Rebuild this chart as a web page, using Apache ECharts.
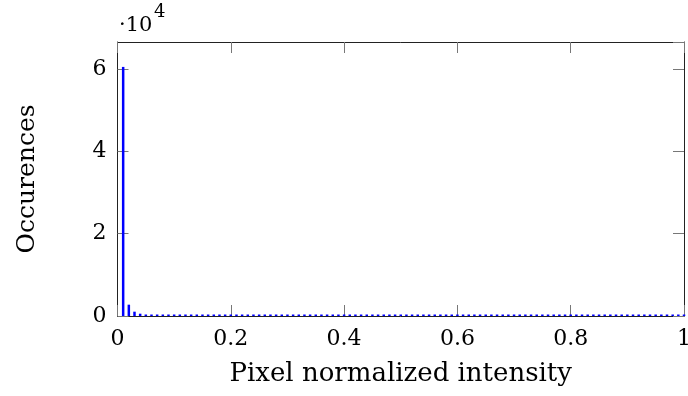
<!DOCTYPE html>
<html>
<head>
<meta charset="utf-8">
<script src="https://cdn.jsdelivr.net/npm/echarts@6/dist/echarts.min.js"></script>
<style>
  html, body { margin: 0; padding: 0; background: #fff; }
  #chart { width: 688px; height: 396px; }
</style>
</head>
<body>
<div id="chart"></div>
<script>
  // histogram bin positions (normalized intensity) and counts
  var binX = [];
  for (var i = 1; i <= 100; i++) binX.push(+(i * 0.01).toFixed(2));
  var counts = [
    60500, 2750, 1050, 560, 320, 230, 190, 160, 140, 125,
    115, 105, 98, 92, 88, 84, 80, 77, 74, 72,
    70, 68, 66, 64, 62, 61, 60, 58, 57, 56,
    55, 54, 53, 52, 51, 50, 49, 48, 48, 47,
    46, 45, 45, 44, 43, 43, 42, 42, 41, 41,
    40, 40, 39, 39, 38, 38, 38, 37, 37, 36,
    36, 36, 35, 35, 35, 34, 34, 34, 33, 33,
    33, 32, 32, 32, 31, 31, 31, 30, 30, 30,
    30, 29, 29, 29, 28, 28, 28, 28, 27, 27,
    27, 27, 26, 26, 26, 26, 25, 25, 25, 25
  ];
  var xTicks = [0, 0.2, 0.4, 0.6, 0.8, 1];
  var yTicks = [0, 20000, 40000, 60000];

  var chart = echarts.init(document.getElementById('chart'));
  var font = '"DejaVu Serif", serif';
  var pairs = binX.map(function (x, k) { return [x, counts[k]]; });

  var line = { show: true, onZero: false, lineStyle: { color: '#222', width: 1 } };
  var tick = { show: true, inside: true, length: 11, lineStyle: { color: '#777', width: 1 } };

  var option = {
    animation: false,
    grid: { left: 117.5, right: 4, top: 42, bottom: 80, containLabel: false, outerBoundsMode: 'none' },
    xAxis: [{
      type: 'value', min: xTicks[0], max: xTicks[xTicks.length - 1], interval: 0.2,
      name: 'Pixel normalized intensity', nameLocation: 'middle', nameGap: 45,
      nameTextStyle: { fontFamily: font, fontSize: 26, color: '#000' },
      axisLine: line, axisTick: tick,
      axisLabel: { fontFamily: font, fontSize: 22, color: '#000', margin: 12 },
      splitLine: { show: false }
    }, {
      type: 'value', position: 'top', min: 0, max: 1, interval: 0.2,
      axisLine: line, axisTick: tick,
      axisLabel: { show: false }, splitLine: { show: false }
    }],
    yAxis: [{
      type: 'value', min: yTicks[0], max: 66550, interval: 20000,
      name: 'Occurences', nameLocation: 'middle', nameGap: 78,
      nameTextStyle: { fontFamily: font, fontSize: 25, color: '#000' },
      axisLine: line, axisTick: tick,
      axisLabel: {
        fontFamily: font, fontSize: 22, color: '#000', margin: 11, showMaxLabel: false,
        formatter: function (v) { return yTicks.indexOf(v) >= 0 ? String(v / 10000) : ''; }
      },
      splitLine: { show: false }
    }, {
      type: 'value', position: 'right', min: 0, max: 66550, interval: 20000,
      axisLine: line, axisTick: tick,
      axisLabel: { show: false }, splitLine: { show: false }
    }],
    graphic: [{
      type: 'text', x: 119, y: 26,
      style: { text: '·10', fontFamily: font, fontSize: 21, fill: '#000', verticalAlign: 'middle' }
    }, {
      type: 'text', x: 154, y: 12.5,
      style: { text: '4', fontFamily: font, fontSize: 18, fill: '#000', verticalAlign: 'middle' }
    }],
    series: [{
      type: 'bar', xAxisIndex: 0, yAxisIndex: 0, z: 5,
      data: pairs, barWidth: 2.5, barMinHeight: 1.5,
      itemStyle: { color: '#0000ff' }
    }]
  };
  chart.setOption(option);
</script>
</body>
</html>
